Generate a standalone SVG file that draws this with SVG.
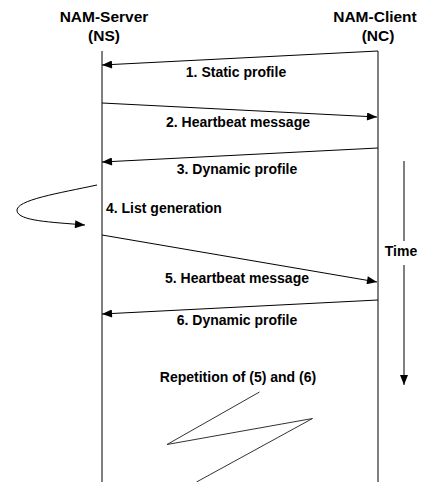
<svg xmlns="http://www.w3.org/2000/svg" width="422" height="482" viewBox="0 0 422 482">
<style>
text{font-family:"Liberation Sans",Arial,sans-serif;font-weight:bold;fill:#000}
.h{font-size:15.5px;text-anchor:middle}
.l{font-size:14px;text-anchor:middle}
.ln{stroke:#000;stroke-width:1;fill:none}
</style>
<defs>
<marker id="ah" viewBox="0 0 10 8" refX="10" refY="4" markerWidth="11" markerHeight="8" markerUnits="userSpaceOnUse" orient="auto">
<path d="M0,0 L10,4 L0,8 z" fill="#000"/>
</marker>
</defs>
<rect width="422" height="482" fill="#fff"/>
<g id="ns">
<text class="h" x="104" y="22">NAM-Server</text>
<text class="h" x="104" y="41">(NS)</text>
<line class="ln" x1="102" y1="51" x2="102" y2="482"/>
</g>
<g id="nc">
<text class="h" x="375" y="22">NAM-Client</text>
<text class="h" x="378" y="41">(NC)</text>
<line class="ln" x1="378" y1="51" x2="378" y2="482"/>
</g>
<g id="time">
<line class="ln" x1="404" y1="161" x2="404" y2="241"/>
<line class="ln" x1="404" y1="265" x2="404" y2="385" marker-end="url(#ah)"/>
<text x="401" y="256" style="font-size:14px;text-anchor:middle">Time</text>
</g>
<g id="connectors">
<line class="ln" x1="378" y1="51" x2="102" y2="65" marker-end="url(#ah)"/>
<line class="ln" x1="102" y1="103" x2="377" y2="117" marker-end="url(#ah)"/>
<line class="ln" x1="378" y1="148" x2="102" y2="162" marker-end="url(#ah)"/>
<path class="ln" d="M97,185 C60,193 15,200 17,211 C19,221 50,222 85,225" marker-end="url(#ah)"/>
<line class="ln" x1="102" y1="235" x2="377" y2="282" marker-end="url(#ah)"/>
<line class="ln" x1="378" y1="300" x2="102" y2="314" marker-end="url(#ah)"/>
<polyline points="259.5,392 167,444.5 312.5,418.5 196.5,482" fill="none" stroke="#333" stroke-width="1"/>
</g>
<g id="labels">
<text class="l" x="236" y="77">1. Static profile</text>
<text class="l" x="238" y="127">2. Heartbeat message</text>
<text class="l" x="237" y="174">3. Dynamic profile</text>
<text x="106" y="213" style="font-size:14px">4. List generation</text>
<text class="l" x="237" y="283">5. Heartbeat message</text>
<text class="l" x="237" y="325">6. Dynamic profile</text>
<text class="l" x="238" y="382">Repetition of (5) and (6)</text>
</g>
</svg>
